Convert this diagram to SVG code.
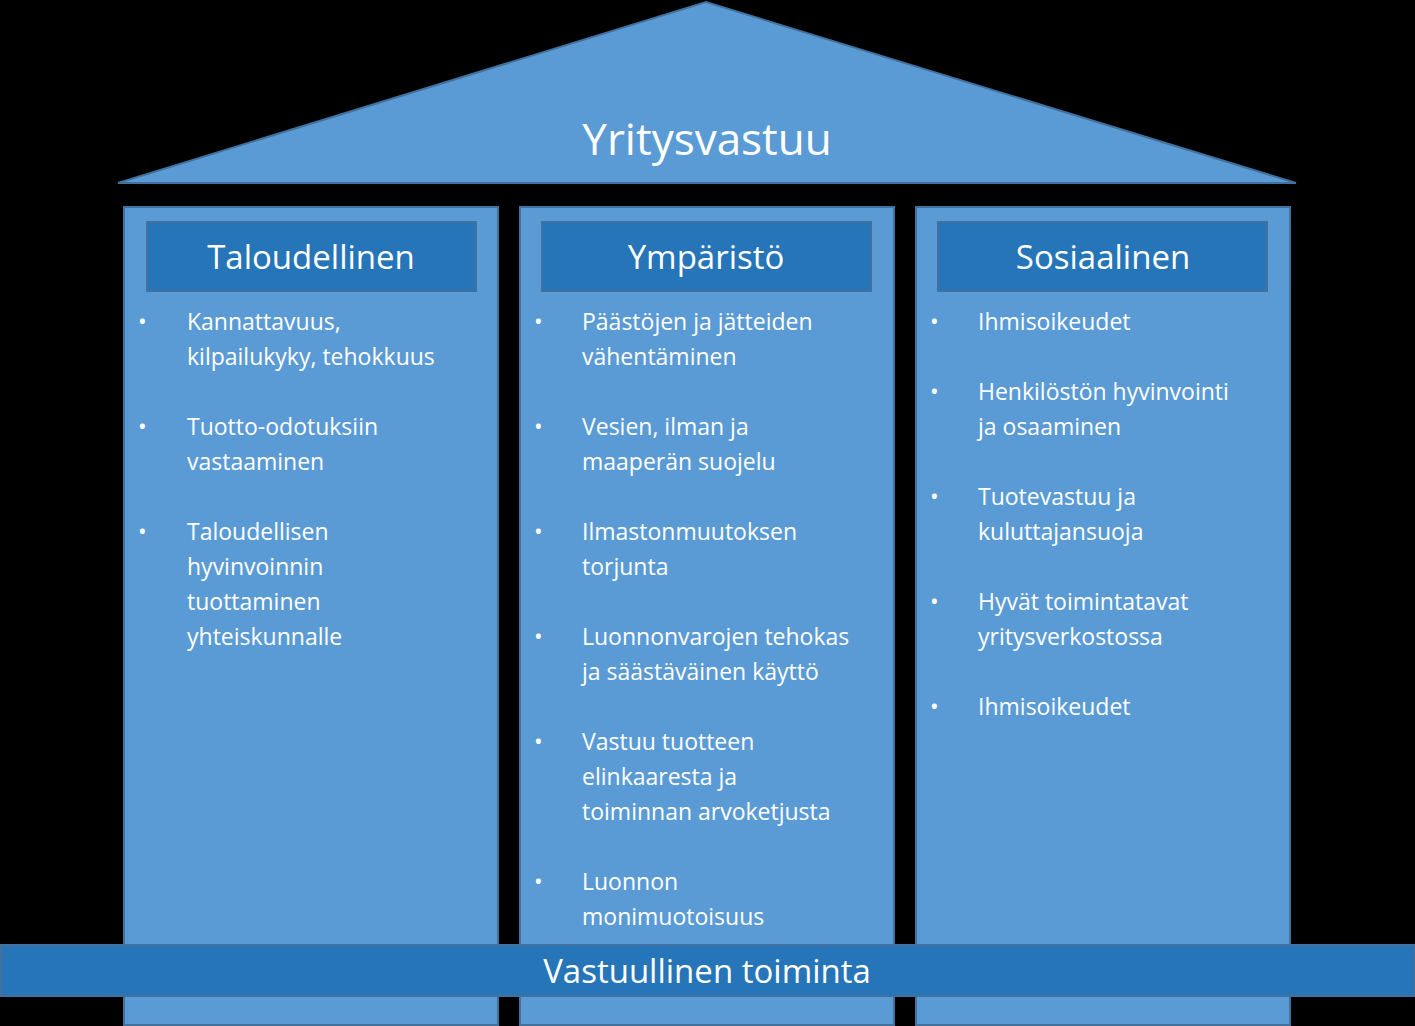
<svg xmlns="http://www.w3.org/2000/svg" width="1415" height="1026" viewBox="0 0 1415 1026">
<style>
.col{fill:#5B9BD5;stroke:#41719C;stroke-width:2}
.hd{fill:#2675B8;stroke:#41719C;stroke-width:2}
text{font-family:"Open Sans","Liberation Sans",sans-serif;fill:#fff}
.h{font-size:33px;text-anchor:middle}
.t{font-size:23px}
</style>
<rect width="1415" height="1026" fill="#000"/>
<g id="roof"><polygon points="118,183 706,2 1296,183" class="col"/><text x="707" y="155" class="h" style="font-size:44px">Yritysvastuu</text></g>
<g id="col1"><rect x="124" y="207" width="374" height="818" class="col"/><rect x="147" y="222" width="329" height="69" class="hd"/><text x="311" y="269" class="h">Taloudellinen</text>
<text class="t"><tspan x="138" y="330">•</tspan><tspan x="187" y="330">Kannattavuus,</tspan><tspan x="187" y="365">kilpailukyky, tehokkuus</tspan><tspan x="138" y="435">•</tspan><tspan x="187" y="435">Tuotto-odotuksiin</tspan><tspan x="187" y="470">vastaaminen</tspan><tspan x="138" y="540">•</tspan><tspan x="187" y="540">Taloudellisen</tspan><tspan x="187" y="575">hyvinvoinnin</tspan><tspan x="187" y="610">tuottaminen</tspan><tspan x="187" y="645">yhteiskunnalle</tspan></text></g>
<g id="col2"><rect x="520" y="207" width="374" height="818" class="col"/><rect x="542" y="222" width="329" height="69" class="hd"/><text x="706" y="269" class="h">Ympäristö</text>
<text class="t"><tspan x="534" y="330">•</tspan><tspan x="582" y="330">Päästöjen ja jätteiden</tspan><tspan x="582" y="365">vähentäminen</tspan><tspan x="534" y="435">•</tspan><tspan x="582" y="435">Vesien, ilman ja</tspan><tspan x="582" y="470">maaperän suojelu</tspan><tspan x="534" y="540">•</tspan><tspan x="582" y="540">Ilmastonmuutoksen</tspan><tspan x="582" y="575">torjunta</tspan><tspan x="534" y="645">•</tspan><tspan x="582" y="645">Luonnonvarojen tehokas</tspan><tspan x="582" y="680">ja säästäväinen käyttö</tspan><tspan x="534" y="750">•</tspan><tspan x="582" y="750">Vastuu tuotteen</tspan><tspan x="582" y="785">elinkaaresta ja</tspan><tspan x="582" y="820">toiminnan arvoketjusta</tspan><tspan x="534" y="890">•</tspan><tspan x="582" y="890">Luonnon</tspan><tspan x="582" y="925">monimuotoisuus</tspan></text></g>
<g id="col3"><rect x="916" y="207" width="374" height="818" class="col"/><rect x="938" y="222" width="329" height="69" class="hd"/><text x="1103" y="269" class="h">Sosiaalinen</text>
<text class="t"><tspan x="930" y="330">•</tspan><tspan x="978" y="330">Ihmisoikeudet</tspan><tspan x="930" y="400">•</tspan><tspan x="978" y="400">Henkilöstön hyvinvointi</tspan><tspan x="978" y="435">ja osaaminen</tspan><tspan x="930" y="505">•</tspan><tspan x="978" y="505">Tuotevastuu ja</tspan><tspan x="978" y="540">kuluttajansuoja</tspan><tspan x="930" y="610">•</tspan><tspan x="978" y="610">Hyvät toimintatavat</tspan><tspan x="978" y="645">yritysverkostossa</tspan><tspan x="930" y="715">•</tspan><tspan x="978" y="715">Ihmisoikeudet</tspan></text></g>
<g id="base"><rect x="1" y="945" width="1413" height="51" class="hd"/><text x="707" y="983" class="h">Vastuullinen toiminta</text></g>
<g id="connectors"/>
</svg>
